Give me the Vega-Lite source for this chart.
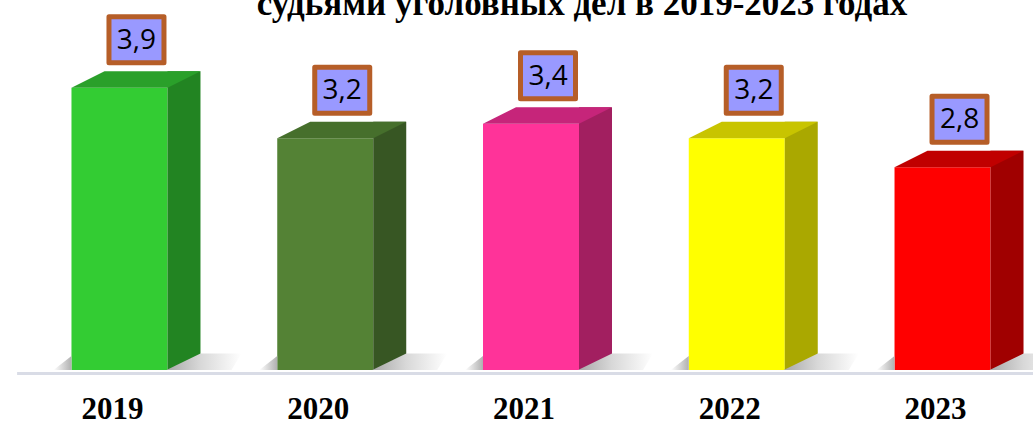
{
  "$schema": "https://vega.github.io/schema/vega-lite/v6.json",
  "width": 1033,
  "height": 362,
  "autosize": {"type": "none"},
  "padding": {"left": 0, "top": 8, "right": 0, "bottom": 51},
  "background": "white",
  "config": {
    "view": {"stroke": null},
    "locale": {"number": {"decimal": ",", "thousands": " ", "grouping": [3], "currency": ["", " ₽"]}}
  },
  "data": {
    "values": [
      {"year": "2019", "value": 3.9},
      {"year": "2020", "value": 3.2},
      {"year": "2021", "value": 3.4},
      {"year": "2022", "value": 3.2},
      {"year": "2023", "value": 2.8}
    ]
  },
  "encoding": {
    "x": {
      "field": "year",
      "type": "nominal",
      "sort": null,
      "scale": {"range": [16.6, 1045.4], "paddingInner": 0, "paddingOuter": 0},
      "axis": {
        "title": null,
        "ticks": false,
        "tickSize": 0,
        "labelAngle": 0,
        "labelFont": "Liberation Serif",
        "labelFontSize": 31,
        "labelFontWeight": "bold",
        "labelColor": "black",
        "labelBaseline": "alphabetic",
        "labelPadding": 45,
        "labelOffset": -7,
        "domainColor": "#d9dce6",
        "domainWidth": 3,
        "offset": 3
      }
    }
  },
  "layer": [
    {
      "mark": {"type": "bar", "width": 96},
      "encoding": {
        "y": {"field": "value", "type": "quantitative", "scale": {"domain": [0, 5]}, "axis": null},
        "color": {
          "field": "year", "type": "nominal", "legend": null,
          "scale": {"domain": ["2019", "2020", "2021", "2022", "2023"], "range": ["#33cc33", "#548235", "#ff3399", "#ffff00", "#ff0000"]}
        }
      }
    },
    {
      "mark": {"type": "bar", "width": 33, "xOffset": 64.5, "yOffset": -16.5, "y2Offset": 0},
      "encoding": {
        "y": {"field": "value", "type": "quantitative", "scale": {"domain": [0, 5]}, "axis": null},
        "y2": {"datum": 0},
        "color": {
          "field": "year", "type": "nominal", "legend": null,
          "scale": {"domain": ["2019", "2020", "2021", "2022", "2023"], "range": ["#228422", "#375623", "#a21f60", "#aaa800", "#a00000"]}
        }
      }
    },
    {
      "mark": {
        "type": "point", "filled": true, "opacity": 1, "size": 4, "strokeWidth": 0,
        "shape": "M 47 0 L 81 -16.5 L 122 -16.5 L 112 0 Z",
        "fill": {"gradient": "linear", "x1": 0, "y1": 0, "x2": 1, "y2": 0, "stops": [{"offset": 0, "color": "#a8a8a8"}, {"offset": 0.45, "color": "#d8d8d8"}, {"offset": 1, "color": "#ffffff"}]}
      },
      "encoding": {
        "y": {"datum": 0, "type": "quantitative", "scale": {"domain": [0, 5]}}
      }
    },
    {
      "mark": {
        "type": "point", "filled": true, "opacity": 1, "size": 4, "strokeWidth": 0,
        "shape": "M -48 0 L -48 -14 L -66 0 Z",
        "fill": {"gradient": "linear", "x1": 0, "y1": 0, "x2": 1, "y2": 0, "stops": [{"offset": 0, "color": "#ffffff"}, {"offset": 1, "color": "#b0b0b0"}]}
      },
      "encoding": {
        "y": {"datum": 0, "type": "quantitative", "scale": {"domain": [0, 5]}}
      }
    },
    {
      "mark": {"type": "point", "filled": true, "opacity": 1, "size": 4, "strokeWidth": 0, "shape": "M -48 0 L 48 0 L 81 -16.5 L -15 -16.5 Z"},
      "encoding": {
        "y": {"field": "value", "type": "quantitative", "scale": {"domain": [0, 5]}},
        "color": {
          "field": "year", "type": "nominal", "legend": null,
          "scale": {"domain": ["2019", "2020", "2021", "2022", "2023"], "range": ["#2aa02a", "#466f2c", "#c6257a", "#c8c400", "#c00000"]}
        }
      }
    },
    {
      "mark": {
        "type": "point", "filled": false, "opacity": 1, "size": 4,
        "shape": "M -27.5 -23 L 27.5 -23 L 27.5 23 L -27.5 23 Z",
        "fill": "#9999ff", "fillOpacity": 1, "stroke": "#b65e28", "strokeWidth": 5, "strokeJoin": "round",
        "xOffset": 17, "yOffset": -48
      },
      "encoding": {
        "y": {"field": "value", "type": "quantitative", "scale": {"domain": [0, 5]}}
      }
    },
    {
      "mark": {
        "type": "text", "font": "Open Sans", "fontSize": 28, "color": "black",
        "baseline": "middle", "align": "center", "xOffset": 17, "yOffset": -47
      },
      "encoding": {
        "y": {"field": "value", "type": "quantitative", "scale": {"domain": [0, 5]}},
        "text": {"field": "value", "type": "quantitative", "format": ".1f"}
      }
    },
    {
      "data": {"values": [{"title": "судьями уголовных дел в 2019-2023 годах"}]},
      "mark": {
        "type": "text", "font": "Liberation Serif", "fontSize": 35, "fontWeight": "bold", "color": "black",
        "baseline": "alphabetic", "align": "center", "xOffset": 51, "yOffset": 7
      },
      "encoding": {
        "x": {"datum": "2021"},
        "y": {"datum": 5, "type": "quantitative", "scale": {"domain": [0, 5]}},
        "text": {"field": "title", "type": "nominal"}
      }
    }
  ],
  "resolve": {"scale": {"color": "independent"}}
}
